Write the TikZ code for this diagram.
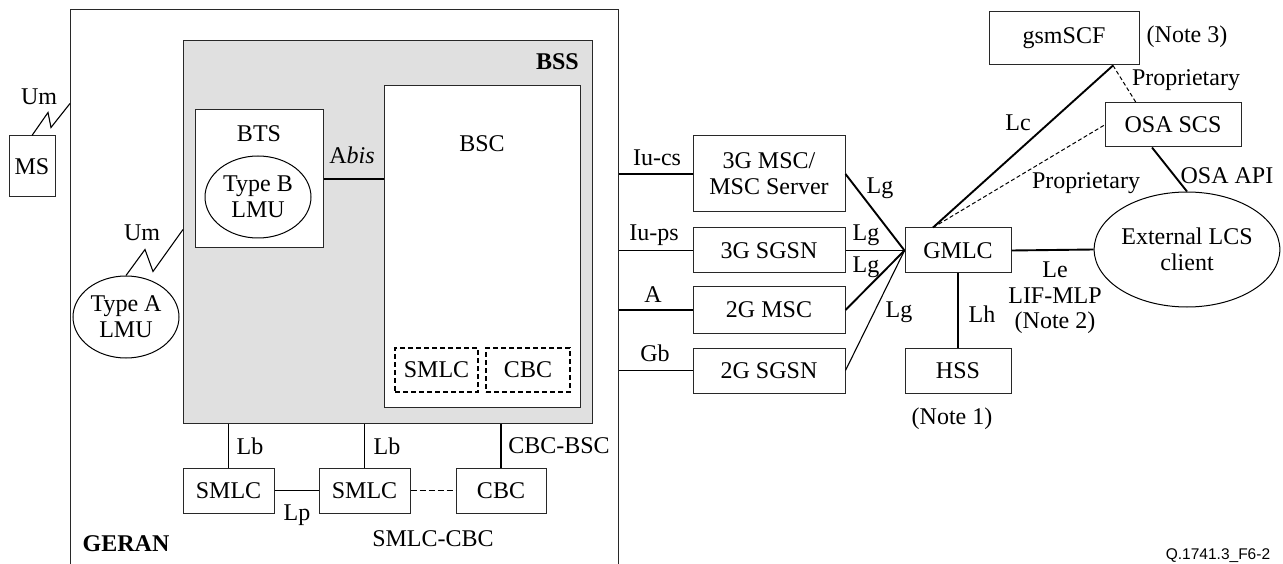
\documentclass[tikz,border=0pt]{standalone}
\usepackage{fontspec}
\setmainfont{Liberation Serif}
\newfontfamily\figfont{Liberation Sans}
\usetikzlibrary{shapes.geometric}
\definecolor{bssgray}{RGB}{224,224,224}
\definecolor{edge}{RGB}{40,40,40}
\begin{document}
\begin{tikzpicture}[x=1pt,y=-1pt,
  every node/.style={font=\fontsize{24}{26}\selectfont},
  box/.style={draw=edge, line width=1pt, fill=white, inner sep=0pt, align=center},
  dbox/.style={draw=black, line width=1.6pt, dash pattern=on 5pt off 3pt, inner sep=0pt, align=center},
  oval/.style={ellipse, draw=black, line width=1pt, fill=white, inner sep=0pt, align=center},
  lbl/.style={inner sep=0pt, align=center},
  conn/.style={line width=1.9pt},
  thinconn/.style={line width=1.1pt},
  dconn/.style={line width=1pt, dash pattern=on 4pt off 2.5pt}]
\useasboundingbox (0,0) rectangle (1283,564);
\clip (0,0) rectangle (1283,564);

% GERAN and BSS
\node[box, minimum width=548pt, minimum height=600pt] (GERAN) at (344,310) {};
\node[box, fill=bssgray, minimum width=409pt, minimum height=382pt] (BSS) at (387.5,232) {};
\node[box, minimum width=196pt, minimum height=321pt] (BSC) at (482,246.5) {};
\node[box, minimum width=128pt, minimum height=138pt] (BTS) at (259,179) {};
\node[oval, minimum width=106pt, minimum height=82pt] (TypeB) at (258,197) {Type B\\LMU};
\node[dbox, minimum width=83pt, minimum height=44pt] (dSMLC) at (436.5,370) {SMLC};
\node[dbox, minimum width=84pt, minimum height=44pt] (dCBC) at (528,370) {CBC};

\node[lbl] (lBTS) at (259,134) {BTS};
\node[lbl] (lBSC) at (482,144) {BSC};
\node[lbl, anchor=east, font=\fontsize{24}{26}\selectfont\bfseries] (lBSS) at (579,62) {BSS};
\node[lbl, font=\fontsize{24}{26}\selectfont\bfseries] (lGERAN) at (126,544) {GERAN};

% MS and Type A LMU
\node[box, minimum width=46pt, minimum height=61pt] (MS) at (32,166.5) {MS};
\node[oval, minimum width=106pt, minimum height=82pt] (TypeA) at (126,317) {Type A\\LMU};

% SMLC / CBC row
\node[box, minimum width=91pt, minimum height=45pt] (SMLC1) at (228.5,490.5) {SMLC};
\node[box, minimum width=91pt, minimum height=45pt] (SMLC2) at (364.5,490.5) {SMLC};
\node[box, minimum width=90pt, minimum height=45pt] (CBC) at (501,490.5) {CBC};

% core network
\node[box, minimum width=152pt, minimum height=76pt] (MSC3) at (769,174) {3G MSC/\\MSC Server};
\node[box, minimum width=152pt, minimum height=45pt] (SGSN3) at (769,250.5) {3G SGSN};
\node[box, minimum width=152pt, minimum height=46pt] (MSC2) at (769,310) {2G MSC};
\node[box, minimum width=152pt, minimum height=45pt] (SGSN2) at (769,370.5) {2G SGSN};
\node[box, minimum width=106pt, minimum height=45pt] (GMLC) at (958,250.5) {GMLC};
\node[box, minimum width=106pt, minimum height=45pt] (HSS) at (958,370.5) {HSS};
\node[box, minimum width=150pt, minimum height=53pt] (gsmSCF) at (1064,38.5) {gsmSCF};
\node[box, minimum width=136pt, minimum height=44pt] (OSA) at (1173,125) {OSA SCS};
\node[oval, minimum width=184pt, minimum height=115pt] (Ext) at (1187,249.5) {External LCS\\client};

% connectors
\draw[conn] (BTS.east) -- (BTS.east -| BSC.west);
\draw[thinconn, line join=miter] (MS.north) -- ++(16,-23) -- ++(3,15) -- ++(19,-24);
\draw[thinconn, line join=miter] (TypeA.north) -- ++(19,-26) -- ++(8,22) -- ++(30,-42);
\draw[conn] (SMLC1.north) -- (SMLC1.north |- BSS.south);
\draw[conn] (SMLC2.north) -- (SMLC2.north |- BSS.south);
\draw[conn] (CBC.north) -- (CBC.north |- BSS.south);
\draw[conn] (SMLC1.east) -- (SMLC2.west);
\draw[line width=1.6pt, dash pattern=on 6pt off 3pt] (SMLC2.east) -- (CBC.west);

\draw[conn] (MSC3.west) -- (MSC3.west -| GERAN.east);
\draw[conn] (SGSN3.west) -- (SGSN3.west -| GERAN.east);
\draw[conn] (MSC2.west) -- (MSC2.west -| GERAN.east);
\draw[conn] (SGSN2.west) -- (SGSN2.west -| GERAN.east);

\draw[conn] (MSC3.east) -- (GMLC.west);
\draw[conn] (SGSN3.east) -- (GMLC.west);
\draw[conn] (MSC2.east) -- (GMLC.west);
\draw[thinconn] (SGSN2.east) -- (GMLC.west);
\draw[conn] (GMLC.south) -- (HSS.north);
\draw[conn] (GMLC.east) -- (Ext.west);

\coordinate (gtop) at ([xshift=-25pt]GMLC.north);
\coordinate (sbot) at ([xshift=49pt]gsmSCF.south);
\coordinate (otop) at ([xshift=-37pt]OSA.north);
\coordinate (obot) at ([xshift=-21pt]OSA.south);
\draw[conn] (gtop) -- (sbot);
\draw[dconn] (sbot) -- (otop);
\draw[dconn] (gtop) -- (OSA.west);
\draw[conn] (obot) -- (Ext.north);

% labels
\node[lbl] (lUm1) at (39,97) {Um};
\node[lbl] (lUm2) at (142,233) {Um};
\node[lbl] (lAbis) at (352,155) {A\textit{bis}};
\node[lbl] (lLb1) at (250,446) {Lb};
\node[lbl] (lLb2) at (387,446) {Lb};
\node[lbl] (lCBCBSC) at (559,446) {CBC-BSC};
\node[lbl] (lLp) at (297,515) {Lp};
\node[lbl] (lSMLCCBC) at (433,539) {SMLC-CBC};

\node[lbl] (lIucs) at (657,158) {Iu-cs};
\node[lbl] (lIups) at (654,235) {Iu-ps};
\node[lbl] (lA) at (653,295) {A};
\node[lbl] (lGb) at (655,353) {Gb};

\node[lbl] (lLg1) at (880,188) {Lg};
\node[lbl] (lLg2) at (866,235) {Lg};
\node[lbl] (lLg3) at (866,267) {Lg};
\node[lbl] (lLg4) at (899,312) {Lg};

\node[lbl] (lLh) at (982,314) {Lh};
\node[lbl] (lLe) at (1055,270) {Le};
\node[lbl] (lLIF) at (1055,296) {LIF-MLP};
\node[lbl] (lN2) at (1055,323) {(Note 2)};
\node[lbl] (lN1) at (952,419) {(Note 1)};
\node[lbl] (lN3) at (1187,37) {(Note 3)};
\node[lbl] (lProp1) at (1186,80) {Proprietary};
\node[lbl] (lProp2) at (1086,183) {Proprietary};
\node[lbl] (lLc) at (1018,123) {Lc};
\node[lbl] (lOSAAPI) at (1227,176) {OSA API};

\node[lbl, anchor=south, font=\figfont\fontsize{15.5}{17}\selectfont] (figid) at (1218,563) {Q.1741.3\_F6-2};
\end{tikzpicture}
\end{document}
